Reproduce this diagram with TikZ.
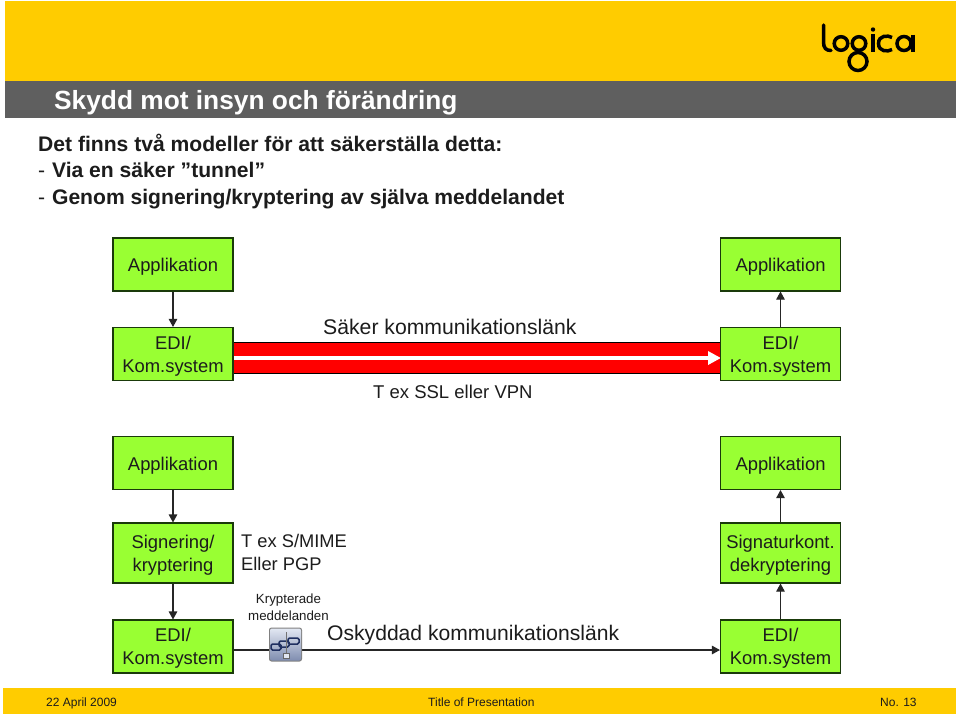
\documentclass[tikz,border=0pt]{standalone}
\usepackage{fontspec}
\setmainfont{Liberation Sans}
\usetikzlibrary{arrows.meta}
\definecolor{yel}{HTML}{FFCC00}
\definecolor{band}{HTML}{5F5F5F}
\definecolor{grn}{HTML}{99FF33}
\definecolor{txt}{HTML}{1C1C1C}
\definecolor{edge}{HTML}{1A3A0A}
\definecolor{iconhi}{HTML}{E2E7F2}
\definecolor{iconlo}{HTML}{7F8DB0}
\definecolor{chain}{HTML}{1F2F60}
\newcommand{\twoln}[2]{\raisebox{-2.2pt}[\height][\depth]{\begin{tabular}{@{}c@{}}#1\\#2\end{tabular}}}
\newcommand{\thindash}{{\mdseries -}\kern1pt\ }
\tikzset{
 box/.style={draw=edge,line width=1.1pt,fill=grn,minimum width=120pt,inner sep=0pt,text=txt,font=\fontsize{18.4}{23}\selectfont},
 onebox/.style={box,execute at begin node={\rule{0pt}{18.5pt}}},
 lab/.style={inner sep=0pt,text=txt,anchor=base west},
 body/.style={inner sep=0pt,anchor=base west,text=txt,font=\bfseries\fontsize{21.1}{25}\selectfont},
 flow/.style={line width=1.1pt,draw=black!85,-{Triangle[length=8pt,width=8.5pt]}},
 foot/.style={inner sep=0pt,anchor=base west,text=txt,font=\fontsize{12}{14}\selectfont}
}
\begin{document}
\begin{tikzpicture}[x=1pt,y=-1pt]
\useasboundingbox (0,0) rectangle (960,716);
\fill[white] (0,0) rectangle (960,716);
\fill[yel] (5,1) rectangle (956,81);
\fill[band] (5,81) rectangle (956,118);
\fill[yel] (3,688) rectangle (956,714);
% logo
\begin{scope}[line width=3.5pt,draw=black]
\draw[line cap=round] (823.5,25) -- (823.5,42) .. controls (823.5,48) and (826,50.5) .. (831,50.5);
\draw (841,43.5) circle (6.8);
\draw (859,43.5) circle (6.8);
\draw (858,61.5) circle (9);
\draw (873,34) -- (873,52);
\draw (892,37.5) .. controls (888,35) and (878.5,35) .. (878.5,43.5) .. controls (878.5,52) and (888,52) .. (892,49.5);
\draw (904,43.5) circle (7);
\draw (913,34.5) -- (913,52);
\end{scope}
\fill (873,29.5) circle (2.2);
% title
\node[inner sep=0pt,anchor=base west,text=white,font=\bfseries\fontsize{26.3}{30}\selectfont] (title) at (54,109.5) {Skydd mot insyn och förändring};
\node[body] (l1) at (38,151) {Det finns två modeller för att säkerställa detta:};
\node[body] (l2) at (38,177) {\thindash Via en säker ”tunnel”};
\node[body] (l3) at (38,204.5) {\thindash Genom signering/kryptering av själva meddelandet};
% red tunnel
\fill[black] (233,342) rectangle (721,374);
\fill[red] (233,343.3) rectangle (721,372.7);
\coordinate (ts) at (233,358);
\coordinate (te) at (721,358);
\draw[white,line width=4pt,-{Triangle[length=13pt,width=13pt]}] (ts) -- (te);
% boxes
\node[onebox,minimum height=53pt] (a1) at (173,264.5) {Applikation};
\node[box,minimum height=53pt] (e1) at (173,354) {\twoln{EDI/}{Kom.system}};
\node[onebox,minimum height=53pt] (a2) at (780.5,264.5) {Applikation};
\node[box,minimum height=53pt] (e2) at (780.5,354) {\twoln{EDI/}{Kom.system}};
\node[onebox,minimum height=53pt] (a3) at (173,463) {Applikation};
\node[box,minimum height=60pt] (s1) at (173,553) {\twoln{Signering/}{kryptering}};
\node[box,minimum height=53pt] (e3) at (173,646.5) {\twoln{EDI/}{Kom.system}};
\node[onebox,minimum height=53pt] (a4) at (780.5,463) {Applikation};
\node[box,minimum height=60pt] (s2) at (780.5,553) {\twoln{Signaturkont.}{dekryptering}};
\node[box,minimum height=53pt] (e4) at (780.5,646.5) {\twoln{EDI/}{Kom.system}};
\draw[flow] (a1) -- (e1);
\draw[flow] (e2) -- (a2);
\draw[flow] (a3) -- (s1);
\draw[flow] (s1) -- (e3);
\draw[flow] (s2) -- (a4);
\draw[flow] (e4) -- (s2);
\draw[flow] (e3.east|-0,650) -- (e4.west|-0,650);
% labels
\node[lab,font=\fontsize{21.2}{25}\selectfont] (t1) at (323,334) {Säker kommunikationslänk};
\node[lab,font=\fontsize{18.5}{22}\selectfont] (t2) at (373,398) {T ex SSL eller VPN};
\node[lab,font=\fontsize{18.3}{22}\selectfont] (t3) at (241,547) {T ex S/MIME};
\node[lab,font=\fontsize{18.3}{22}\selectfont] (t4) at (241,570) {Eller PGP};
\node[inner sep=0pt,align=center,text=txt,font=\fontsize{13.3}{16.5}\selectfont] (t5) at (288.5,607) {Krypterade\\meddelanden};
\node[lab,font=\fontsize{21.1}{26}\selectfont] (t6) at (327,640) {Oskyddad kommunikationslänk};
% icon
\begin{scope}
\fill[rounded corners=2.5pt,black!50] (269,627.5) rectangle (302,661.5);
\shade[rounded corners=2pt,top color=iconhi,bottom color=iconlo] (270,628.5) rectangle (301,660.5);
\draw[chain,line width=1.5pt,rounded corners=1.5pt] (271,644) rectangle (281,650) (279,641) rectangle (289,647) (288,638) rectangle (299,644);
\draw[black!55,line width=.8pt] (286,632) -- (286,654);
\draw[black!60,line width=.9pt,fill=iconhi] (283,653) rectangle (289,658.5);
\end{scope}
% footer
\node[foot] (f1) at (46,706) {22 April 2009};
\node[foot] (f2) at (428,706) {Title of Presentation};
\node[foot] (f3) at (880,706) {No. 13};
\end{tikzpicture}
\end{document}
